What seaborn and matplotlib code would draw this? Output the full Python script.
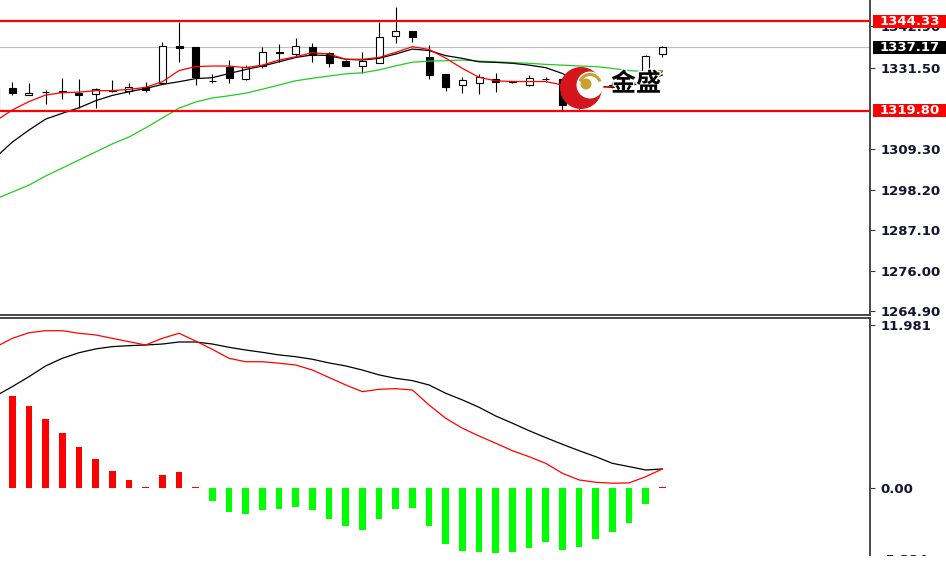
import numpy as np
import matplotlib
matplotlib.use('Agg')
import matplotlib.pyplot as plt
import matplotlib.transforms as mtransforms
import matplotlib.patheffects as pe
from matplotlib.patches import Rectangle, Ellipse, Arc
import seaborn as sns

# ---- data ----
bar_idx = list(range(-1, 40))

open_ = [1320.2, 1325.93, 1324.10, 1324.84, 1325.20, 1324.55, 1324.38, 1325.25, 1325.29, 1326.39,
         1327.30, 1337.63, 1337.35, 1328.05, 1331.87, 1328.49, 1332.14, 1335.71, 1335.25, 1337.35,
         1335.53, 1333.42, 1332.05, 1332.78, 1340.28, 1341.74, 1334.61, 1329.77, 1326.85, 1327.49,
         1328.58, 1327.85, 1326.85, 1328.60, 1328.40, 1323.50, 1326.57, 1326.60, 1326.90, 1328.22,
         1335.25]
close = [1325.9, 1324.75, 1324.75, 1324.93, 1324.90, 1324.10, 1325.66, 1325.15, 1326.39, 1325.48,
         1337.63, 1336.90, 1328.95, 1327.85, 1328.67, 1331.87, 1335.98, 1335.89, 1337.63, 1335.07,
         1332.78, 1332.05, 1333.42, 1340.09, 1341.65, 1339.91, 1329.59, 1326.21, 1328.22, 1328.95,
         1327.76, 1327.70, 1328.86, 1328.40, 1321.36, 1321.00, 1327.76, 1326.90, 1327.20, 1334.79,
         1337.17]
high = [1326.5, 1327.76, 1327.30, 1325.48, 1328.86, 1328.49, 1325.93, 1328.21, 1327.30, 1327.76,
        1338.72, 1344.21, 1337.35, 1329.86, 1333.70, 1332.33, 1337.35, 1337.99, 1339.64, 1338.27,
        1335.80, 1333.70, 1335.98, 1344.21, 1348.13, 1341.74, 1337.81, 1329.77, 1328.95, 1329.86,
        1330.04, 1328.00, 1329.59, 1329.13, 1328.67, 1325.00, 1328.40, 1327.60, 1327.80, 1335.00,
        1337.54]
low = [1319.9, 1324.10, 1324.10, 1321.64, 1322.92, 1320.45, 1320.45, 1325.02, 1324.38, 1325.02,
       1327.30, 1333.24, 1326.85, 1327.30, 1327.30, 1328.22, 1331.41, 1333.24, 1334.61, 1333.24,
       1331.87, 1332.05, 1330.23, 1332.78, 1338.27, 1338.54, 1328.40, 1325.29, 1324.56, 1324.29,
       1325.02, 1327.50, 1326.57, 1327.76, 1320.00, 1320.00, 1326.20, 1326.00, 1326.30, 1328.00,
       1334.61]

ma_red = [1317.0, 1320.0, 1322.3, 1324.1, 1324.75, 1324.9, 1325.3, 1325.3, 1325.65, 1326.2,
          1327.75, 1330.8, 1331.9, 1332.05, 1332.05, 1331.6, 1332.3, 1333.7, 1334.6, 1335.7,
          1335.35, 1333.9, 1333.9, 1334.4, 1335.8, 1337.35, 1336.6, 1334.2, 1331.4, 1328.95,
          1328.0, 1327.8, 1327.8, 1327.8, 1326.85, 1325.9, 1326.2, 1326.4, 1326.85, 1328.4,
          1330.5]
ma_black = [1307.0, 1311.2, 1314.5, 1317.5, 1319.1, 1320.6, 1322.55, 1324.0, 1325.0, 1325.9,
            1327.0, 1327.75, 1328.6, 1328.85, 1330.0, 1331.1, 1332.05, 1333.2, 1334.4, 1335.1,
            1334.9, 1333.9, 1333.7, 1334.15, 1335.35, 1336.7, 1336.3, 1334.9, 1334.15, 1333.2,
            1333.05, 1332.8, 1332.3, 1331.6, 1330.0, 1327.75, 1326.6, 1326.2, 1326.6, 1327.75,
            1329.6]
ma_green = [1295.6, 1297.5, 1299.4, 1301.9, 1304.1, 1306.3, 1308.5, 1310.7, 1312.6, 1315.1,
            1317.8, 1320.5, 1322.2, 1323.3, 1323.9, 1324.6, 1325.7, 1326.85, 1328.0, 1328.7,
            1329.3, 1329.9, 1330.2, 1331.0, 1332.1, 1333.1, 1333.4, 1333.5, 1333.7, 1333.4,
            1333.2, 1333.0, 1332.8, 1332.5, 1332.3, 1332.05, 1331.9, 1331.4, 1330.8, 1330.5,
            1330.8]

resistance = 1344.33
support = 1319.80
last_price = 1337.17
price_ticks = [1264.90, 1276.00, 1287.10, 1298.20, 1309.30, 1331.50, 1342.90]

hist_idx = list(range(0, 40))
macd_hist = [6.79, 6.05, 5.06, 4.07, 2.99, 2.15, 1.23, 0.59, 0.10, 0.99,
             1.16, 0.10, -0.99, -1.78, -1.90, -1.65, -1.55, -1.38, -1.65, -2.27,
             -2.81, -3.08, -2.27, -1.55, -1.46, -2.81, -4.12, -4.61, -4.73, -4.81,
             -4.73, -4.39, -3.99, -4.56, -4.37, -3.75, -3.26, -2.54, -1.16, 0.10]
dif = [10.36, 11.0, 11.41, 11.56, 11.56, 11.37, 11.25, 11.0, 10.75, 10.51,
       11.0, 11.37, 10.8, 10.19, 9.53, 9.28, 9.28, 9.17, 9.04, 8.67,
       8.12, 7.57, 7.08, 7.25, 7.30, 7.20, 6.10, 5.12, 4.39, 3.82,
       3.29, 2.74, 2.30, 1.81, 1.08, 0.59, 0.42, 0.35, 0.37, 0.83,
       1.40]
dea = [6.76, 7.45, 8.18, 8.97, 9.53, 9.94, 10.22, 10.39, 10.46, 10.51,
       10.58, 10.73, 10.73, 10.58, 10.34, 10.14, 9.97, 9.78, 9.65, 9.46,
       9.19, 8.97, 8.67, 8.31, 8.06, 7.89, 7.57, 6.96, 6.47, 5.93,
       5.29, 4.76, 4.21, 3.70, 3.21, 2.74, 2.30, 1.81, 1.57, 1.32,
       1.40]
macd_ticks = [11.981, 0.0]
macd_tick_labels = ['11.981', '0.00']
macd_min = -5.334

# ---- figure ----
sns.set_style('white')
plt.rcParams['font.family'] = ['DejaVu Sans', 'Noto Sans CJK SC']

W, H = 946, 567
fig = plt.figure(figsize=(W / 100, H / 100), dpi=100)
ax = fig.add_axes([0, 1 - 314.5 / H, 870 / W, 314.5 / H])
ax2 = fig.add_axes([0, 11 / H, 870 / W, (556 - 317.5) / H])
XLIM = (-0.738, 51.45)
AXIS_COL = '#3a3a3a'
LABEL_COL = '#141430'
LABEL_FS = 9.5

# candles
o = np.array(open_); c = np.array(close)
ax.vlines(bar_idx, low, high, color='black', lw=0.8, zorder=3)
body_bottom = np.minimum(o, c)
body_h = np.maximum(np.abs(c - o), 0.2)
ax.bar(bar_idx, body_h, bottom=body_bottom, width=0.42,
       color=np.where(c >= o, 'white', 'black'), edgecolor='black', lw=0.8, zorder=4)

sns.lineplot(x=bar_idx, y=ma_green, color='#22cc22', lw=0.9, ax=ax, zorder=5)
sns.lineplot(x=bar_idx, y=ma_black, color='black', lw=0.9, ax=ax, zorder=5)
sns.lineplot(x=bar_idx, y=ma_red, color='red', lw=0.9, ax=ax, zorder=5)

ax.axhline(last_price, color='#c0c0c0', lw=0.8, zorder=1)
ax.axhline(resistance, color='red', lw=1.6, zorder=6)
ax.axhline(support, color='red', lw=1.6, zorder=6)

ax.set_xlim(*XLIM)
ax.set_ylim(1263.94, 1350.15)
ax.set_xticks([])
ax.yaxis.tick_right()
ax.set_yticks(price_ticks)
ax.set_yticklabels([f'{t:.2f}' for t in price_ticks], fontweight='bold')
ax.tick_params(axis='y', direction='out', length=3.5, width=0.8, pad=4,
               labelsize=LABEL_FS, colors=AXIS_COL, labelcolor=LABEL_COL)
ax.set_xlabel(''); ax.set_ylabel('')
for s in ['top', 'left']:
    ax.spines[s].set_visible(False)
for s in ['right', 'bottom']:
    ax.spines[s].set_color(AXIS_COL)
    ax.spines[s].set_linewidth(1.3)

trans = mtransforms.blended_transform_factory(ax.transAxes, ax.transData)
for v, fc in [(resistance, 'red'), (support, 'red'), (last_price, 'black')]:
    ax.add_patch(Rectangle((1.0035, v - 1.75), 0.12, 3.5, transform=trans, fc=fc,
                           ec='none', clip_on=False, zorder=10))
    ax.text(1.0115, v, f'{v:.2f}', transform=trans, color='white', va='center',
            ha='left', fontsize=LABEL_FS, fontweight='bold', zorder=11, clip_on=False)

# MACD panel
hist_key = ['up' if v > 0 else 'dn' for v in macd_hist]
sns.barplot(x=hist_idx, y=macd_hist, hue=hist_key, palette={'up': '#ff0000', 'dn': '#00ff00'},
            native_scale=True, width=0.4, dodge=False, saturation=1, legend=False,
            errorbar=None, linewidth=0, ax=ax2)
sns.lineplot(x=bar_idx, y=dea, color='black', lw=0.9, ax=ax2)
sns.lineplot(x=bar_idx, y=dif, color='red', lw=0.9, ax=ax2)

ax2.set_xlim(*XLIM)
ax2.set_ylim(-5.0, 12.53)
ax2.set_xticks([])
ax2.yaxis.tick_right()
ax2.set_yticks(macd_ticks)
ax2.set_yticklabels(macd_tick_labels, fontweight='bold')
ax2.tick_params(axis='y', direction='out', length=3.5, width=0.8, pad=4,
                labelsize=LABEL_FS, colors=AXIS_COL, labelcolor=LABEL_COL)
ax2.set_xlabel(''); ax2.set_ylabel('')
for s in ['bottom', 'left']:
    ax2.spines[s].set_visible(False)
for s in ['right', 'top']:
    ax2.spines[s].set_color(AXIS_COL)
    ax2.spines[s].set_linewidth(1.3)
trans2 = mtransforms.blended_transform_factory(ax2.transAxes, ax2.transData)
ax2.text(1.0115, macd_min, f'{macd_min:.3f}', transform=trans2, color=LABEL_COL,
         va='center', ha='left', fontsize=LABEL_FS, fontweight='bold', clip_on=False)

# cut off strip at the bottom
fig.add_artist(Rectangle((0, 0), 1, 11 / H, transform=fig.transFigure,
                         fc='white', ec='none', zorder=20))

# watermark logo
def fxy(x, y):
    return x / W, 1 - y / H

fig.add_artist(Ellipse(fxy(581, 88), 42 / W, 42 / H, transform=fig.transFigure,
                       fc='#d4161c', ec='none', zorder=15))
fig.add_artist(Ellipse(fxy(590, 85), 27 / W, 27 / H, transform=fig.transFigure,
                       fc='white', ec='none', zorder=15))
fig.add_artist(Arc(fxy(590, 85), 21 / W, 21 / H, theta1=30, theta2=150,
                   transform=fig.transFigure, color='#c9a030', lw=2.2, zorder=16))
fig.add_artist(Ellipse(fxy(586, 84), 11 / W, 11 / H, transform=fig.transFigure,
                       fc='#c9a030', ec='none', zorder=16))
fig.text(636 / W, 1 - 84 / H, '金盛', fontsize=18, fontweight='bold',
         family=['Noto Sans CJK SC', 'DejaVu Sans'],
         ha='center', va='center', color='black', zorder=17,
         path_effects=[pe.withStroke(linewidth=2, foreground='white')])

fig.savefig('out.png', dpi=100, facecolor='white')
